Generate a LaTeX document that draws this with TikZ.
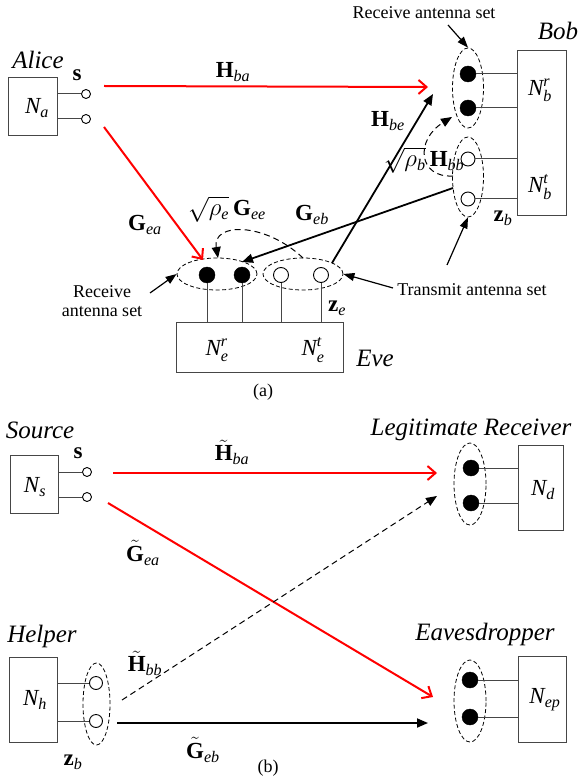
\documentclass[tikz,border=0pt]{standalone}
\usepackage{amsmath}
\usepackage{fontspec}
\setmainfont{Liberation Serif}
\usetikzlibrary{arrows.meta,shapes.geometric}
\definecolor{boxgray}{RGB}{70,70,70}
\begin{document}
\begin{tikzpicture}[x=1pt,y=-1pt,
  box/.style={draw=boxgray, line width=1pt, inner sep=0pt, rectangle},
  wire/.style={draw=boxgray, line width=1pt},
  ocirc/.style={circle, draw=black, line width=0.9pt, fill=white, inner sep=0pt, minimum size=#1},
  ocirc/.default=9pt,
  fcirc/.style={circle, draw=black, fill=black, inner sep=0pt, minimum size=16pt},
  ell/.style={ellipse, draw=black, line width=0.8pt, dash pattern=on 4pt off 2.5pt, inner sep=0pt},
  lbl/.style={font=\fontsize{23}{26}\selectfont, inner sep=0pt},
  who/.style={font=\fontsize{25}{28}\selectfont\itshape, inner sep=0pt},
  note/.style={font=\fontsize{18}{21}\selectfont, inner sep=0pt},
  redarr/.style={draw=red, line width=2pt, -{Straight Barb[length=8pt,width=14pt]}},
  blkarr/.style={draw=black, line width=1.8pt, -{Triangle[length=11pt,width=9pt]}},
  dasharr/.style={draw=black, line width=1pt, dash pattern=on 6pt off 4pt, -{Triangle[length=11pt,width=9pt]}},
  thinarr/.style={draw=black, line width=1.2pt, -{Triangle[length=11pt,width=8pt]}},
]
\useasboundingbox (0,0) rectangle (579,783);

%================ (a) =================
% Alice
\node[box, minimum width=49pt, minimum height=58pt] (abox) at (32.5,107) {};
\node[lbl] (na) at (37,108) {$\textit{N}_{\textit{a}}$};
\node[who] (alice) at (38,60) {Alice};
\node[ocirc] (a1) at (86,94) {};
\node[ocirc] (a2) at (86,119) {};
\draw[wire] (abox.east |- a1) -- (a1.west);
\draw[wire] (abox.east |- a2) -- (a2.west);
\node[lbl] (sa) at (77,75) {\textbf{s}};

% Bob
\node[box, minimum width=49pt, minimum height=165pt] (bbox) at (541.5,133.5) {};
\node[who] (bob) at (558,31) {Bob};
\node[lbl] (nbr) at (540,90) {$\textit{N}^{\textit{r}}_{\textit{b}}$};
\node[lbl] (nbt) at (540,187) {$\textit{N}^{\textit{t}}_{\textit{b}}$};
\node[ell, minimum width=31pt, minimum height=80pt] (brx) at (468,88) {};
\node[ell, minimum width=31pt, minimum height=80pt] (btx) at (468,177) {};
\node[fcirc] (b1) at (468,74) {};
\node[fcirc] (b2) at (468,108) {};
\node[ocirc=14pt] (b3) at (468,159) {};
\node[ocirc=14pt] (b4) at (468,199) {};
\foreach \c in {b1,b2,b3,b4} \draw[wire] (\c.east) -- (bbox.west |- \c);
\node[lbl] (zb) at (503,218) {$\textbf{z}_{\textit{b}}$};
\node[note] (rxset) at (424,13) {Receive antenna set};

% Eve
\node[box, minimum width=167pt, minimum height=50pt] (ebox) at (259.5,347) {};
\node[ell, minimum width=80pt, minimum height=32pt] (erx) at (217,274) {};
\node[ell, minimum width=80pt, minimum height=32pt] (etx) at (303,274) {};
\node[fcirc] (e1) at (207,275) {};
\node[fcirc] (e2) at (242,275) {};
\node[ocirc=15pt] (e3) at (281,275) {};
\node[ocirc=15pt] (e4) at (321,275) {};
\foreach \c in {e1,e2,e3,e4} \draw[wire] (\c.south) -- (\c |- ebox.north);
\node[lbl] (ner) at (217,350) {$\textit{N}^{\textit{r}}_{\textit{e}}$};
\node[lbl] (net) at (313,350) {$\textit{N}^{\textit{t}}_{\textit{e}}$};
\node[lbl] (ze) at (337,308) {$\textbf{z}_{\textit{e}}$};
\node[who] (eve) at (375,358) {Eve};
\node[note, align=center] (rxset2) at (102,301) {Receive\\[-2pt]antenna set};
\node[note] (txset) at (472,290) {Transmit antenna set};
\node[font=\fontsize{18}{21}\selectfont, inner sep=0pt] (capa) at (263,392) {(a)};

% channel labels
\node[lbl] (lhba) at (233,72) {$\textbf{H}_{\textit{ba}}$};
\node[lbl] (lgea) at (145,225) {$\textbf{G}_{\textit{ea}}$};
\node[lbl] (lgee) at (227,209) {$\sqrt{\vphantom{\textbf{H}}\rho_{\textit{e}}}\,\textbf{G}_{\textit{ee}}$};
\node[lbl] (lgeb) at (312,215) {$\textbf{G}_{\textit{eb}}$};
\node[lbl] (lhbe) at (388,121) {$\textbf{H}_{\textit{be}}$};

% connector end points
\coordinate (hba0) at (104,86);  \coordinate (hba1) at (428,87);
\coordinate (gea0) at (104,127); \coordinate (gea1) at (203,260);
\coordinate (geb0) at (453,188); \coordinate (geb1) at (242,262);
\coordinate (hbe0) at (332,263); \coordinate (hbe1) at (433,94);
\coordinate (gee0) at (303,258); \coordinate (gee1) at (218,258);
\coordinate (hbb0) at (453,176); \coordinate (hbb1) at (452,117);

\draw[redarr] (hba0) -- (hba1);
\draw[redarr] (gea0) -- (gea1);
\draw[blkarr] (geb0) -- (geb1);
\draw[blkarr] (hbe0) -- (hbe1);
\draw[dasharr] (gee0) .. controls (265,222) and (212,222) .. (gee1);
\draw[dasharr] (hbb0) .. controls (418,178) and (415,140) .. (hbb1);
\node[lbl] (lhbb) at (424,160) {$\sqrt{\vphantom{\textbf{H}}\rho_{\textit{b}}}\,\textbf{H}_{\textit{bb}}$};

% annotation arrows
\coordinate (n1) at (448,25);  \draw[thinarr] (n1) -- (brx.north);
\coordinate (n2) at (150,293); \draw[thinarr] (n2) -- (erx.west);
\coordinate (n3) at (393,288); \draw[thinarr] (n3) -- (etx.east);
\coordinate (n4) at (447,265); \draw[thinarr] (n4) -- (btx.south);

%================ (b) =================
% Source
\node[who] (src) at (40,430) {Source};
\node[box, minimum width=48pt, minimum height=58pt] (sbox) at (34,484) {};
\node[lbl] (ns) at (35,487) {$\textit{N}_{\textit{s}}$};
\node[ocirc] (s1) at (87,472) {};
\node[ocirc] (s2) at (87,497) {};
\draw[wire] (sbox.east |- s1) -- (s1.west);
\draw[wire] (sbox.east |- s2) -- (s2.west);
\node[lbl] (sb) at (78,453) {\textbf{s}};

% Legitimate receiver
\node[who] (lr) at (471,430) {Legitimate Receiver};
\node[box, minimum width=45pt, minimum height=85pt] (dbox) at (540.5,487.5) {};
\node[lbl] (nd) at (543,490) {$\textit{N}_{\textit{d}}$};
\node[ell, minimum width=32pt, minimum height=82pt] (drx) at (470,484) {};
\node[fcirc] (d1) at (471,468) {};
\node[fcirc] (d2) at (471,503) {};
\foreach \c in {d1,d2} \draw[wire] (\c.east) -- (dbox.west |- \c);

% Helper
\node[who] (hlp) at (42,636) {Helper};
\node[box, minimum width=48pt, minimum height=85pt] (hbox) at (33,699.5) {};
\node[lbl] (nh) at (35,700) {$\textit{N}_{\textit{h}}$};
\node[ell, minimum width=27pt, minimum height=82pt] (htx) at (96.5,704) {};
\node[ocirc=13pt] (h1) at (96,683) {};
\node[ocirc=13pt] (h2) at (96,721) {};
\draw[wire] (hbox.east |- h1) -- (h1.west);
\draw[wire] (hbox.east |- h2) -- (h2.west);
\node[lbl] (zb2) at (73,762) {$\textbf{z}_{\textit{b}}$};

% Eavesdropper
\node[who] (eav) at (485,634) {Eavesdropper};
\node[box, minimum width=48pt, minimum height=86pt] (epbox) at (542,699) {};
\node[lbl] (nep) at (545,700) {$\textit{N}_{\textit{ep}}$};
\node[ell, minimum width=32pt, minimum height=82pt] (eprx) at (470,701) {};
\node[fcirc] (p1) at (470,680) {};
\node[fcirc] (p2) at (470,717) {};
\foreach \c in {p1,p2} \draw[wire] (\c.east) -- (epbox.west |- \c);

% labels
\node[lbl] (lthba) at (232,452) {$\tilde{\textbf{H}}_{\textit{ba}}$};
\node[lbl] (ltgea) at (143,553) {$\tilde{\textbf{G}}_{\textit{ea}}$};
\node[lbl] (lthbb) at (145,663) {$\tilde{\textbf{H}}_{\textit{bb}}$};
\node[lbl] (ltgeb) at (203,750) {$\tilde{\textbf{G}}_{\textit{eb}}$};
\node[font=\fontsize{18}{21}\selectfont, inner sep=0pt] (capb) at (268,768) {(b)};

\coordinate (t1a) at (113,473); \coordinate (t1b) at (437,473);
\coordinate (t2a) at (108,503); \coordinate (t2b) at (433,697);
\coordinate (t3a) at (122,700); \coordinate (t3b) at (437,496);
\coordinate (t4a) at (117,723); \coordinate (t4b) at (428,723);
\draw[redarr] (t1a) -- (t1b);
\draw[redarr] (t2a) -- (t2b);
\draw[dasharr] (t3a) -- (t3b);
\draw[blkarr] (t4a) -- (t4b);
\end{tikzpicture}
\end{document}
